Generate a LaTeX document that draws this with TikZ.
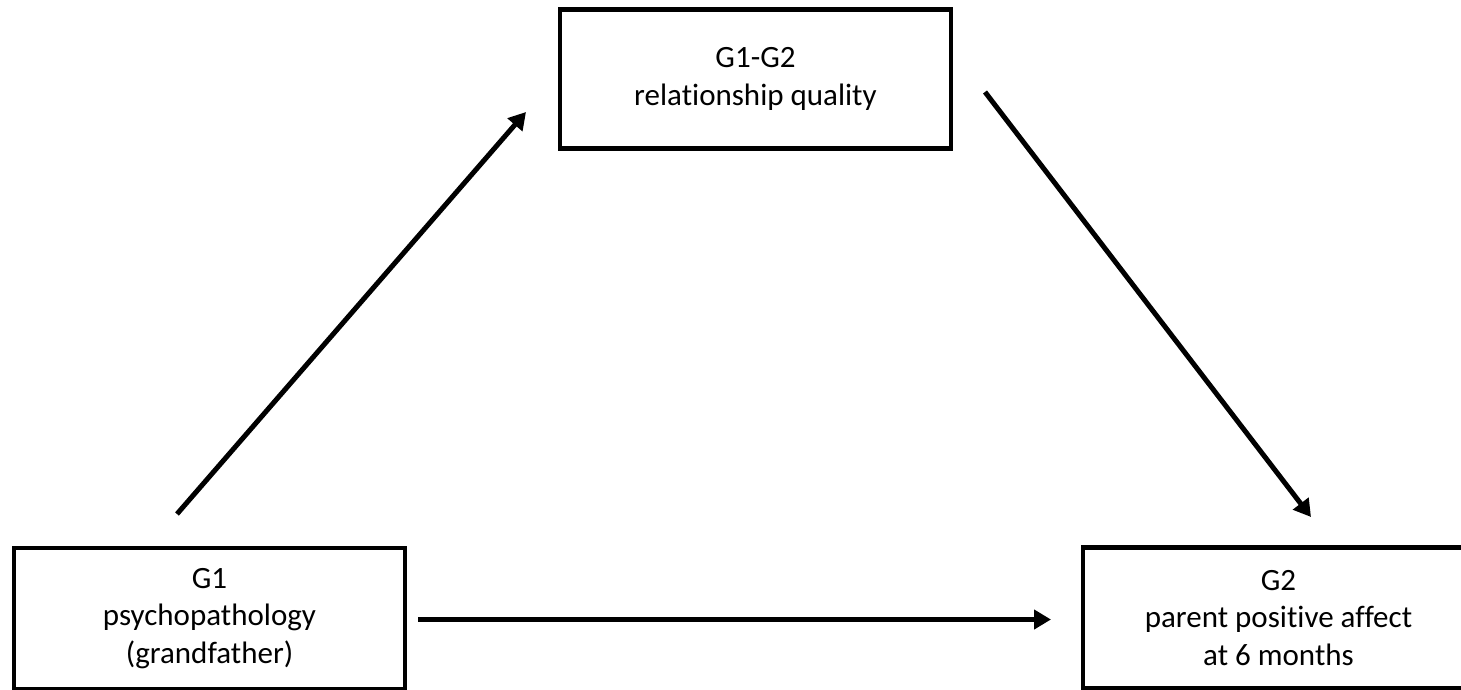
\documentclass[tikz,border=0pt]{standalone}
\usepackage{fontspec}
\setmainfont{Carlito}[Ligatures=NoCommon]
\usetikzlibrary{arrows.meta}
\begin{document}
\begin{tikzpicture}[x=1pt,y=-1pt,
  varbox/.style={draw, line width=4.5pt, minimum width=391pt, minimum height=141pt,
    inner sep=0pt, align=center, font=\fontsize{31}{37.5}\selectfont},
  pathline/.style={line width=5pt, -{Triangle[length=17pt,width=19pt]}}]
\useasboundingbox (0,0) rectangle (1461,689);
\node[varbox, minimum height=139pt] (med) at (755.5,79) {G1-G2\\relationship quality};
\node[varbox] (x) at (209.5,618.5) {G1\\psychopathology\\(grandfather)};
\node[varbox] (y) at (1278.5,618) {G2\\parent positive affect\\at 6 months};
\coordinate (a1s) at (177,514);
\coordinate (a1e) at (526,112);
\coordinate (a2s) at (985,92);
\coordinate (a2e) at (1311,517);
\coordinate (a3s) at (418,619.5);
\coordinate (a3e) at (1051,619.5);
\draw[pathline] (a1s) -- (a1e);
\draw[pathline] (a2s) -- (a2e);
\draw[pathline] (a3s) -- (a3e);
\end{tikzpicture}
\end{document}
